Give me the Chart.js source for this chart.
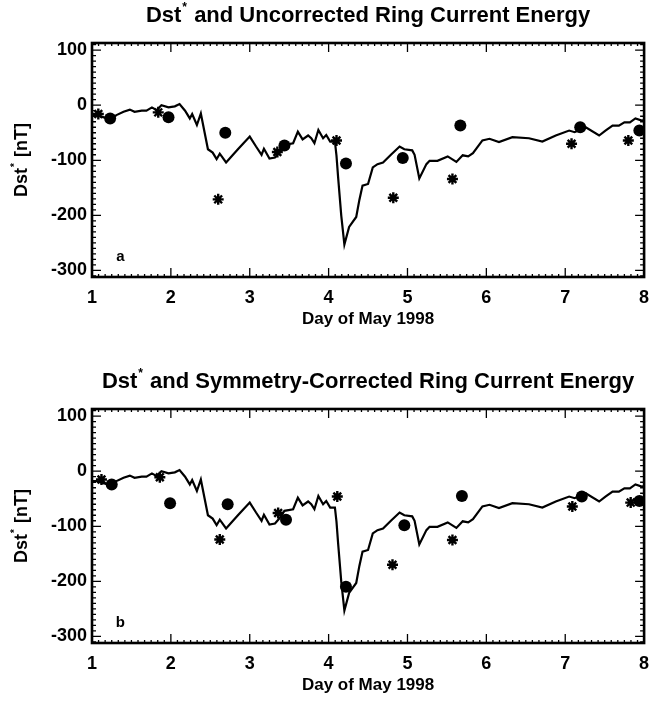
<!DOCTYPE html>
<html>
<head>
<meta charset="utf-8">
<script src="https://cdn.jsdelivr.net/npm/chart.js@4/dist/chart.umd.min.js"></script>
<style>
  body { margin: 0; background: #fff; overflow: hidden; }
  .panel { position: absolute; left: 0; width: 652px; height: 342px; }
</style>
</head>
<body>
<div class="panel" style="top:0"><canvas id="chartA" width="652" height="342"></canvas></div>
<div class="panel" style="top:366px"><canvas id="chartB" width="652" height="342"></canvas></div>
<script>
// Dst* trace (same curve in both panels)
const dstDays = [1.00, 1.06, 1.15, 1.23, 1.31, 1.40, 1.48, 1.54, 1.63, 1.69, 1.76, 1.82, 1.88, 1.97,
  2.05, 2.11, 2.18, 2.24, 2.27, 2.33, 2.38, 2.47, 2.53, 2.58, 2.62, 2.70, 2.85, 3.00, 3.08, 3.15,
  3.18, 3.25, 3.32, 3.38, 3.44, 3.55, 3.61, 3.67, 3.74, 3.78, 3.82, 3.87, 3.93, 3.97, 4.02, 4.08,
  4.10, 4.12, 4.16, 4.20, 4.26, 4.35, 4.39, 4.43, 4.50, 4.56, 4.62, 4.69, 4.79, 4.90, 4.96, 5.06,
  5.09, 5.15, 5.24, 5.28, 5.38, 5.51, 5.62, 5.70, 5.77, 5.83, 5.95, 6.04, 6.16, 6.33, 6.54, 6.71,
  6.88, 7.05, 7.12, 7.26, 7.43, 7.51, 7.60, 7.68, 7.75, 7.82, 7.89, 7.97, 8.00];
const dstValues = [-18, -18, -22, -26, -18, -12, -8, -12, -10, -10, -4, -9, 0, -4,
  -2, 2, -10, -24, -16, -36, -15, -80, -86, -98, -88, -104, -80, -57, -75, -90,
  -79, -97, -95, -85, -72, -69, -48, -62, -55, -60, -69, -45, -60, -54, -66, -66,
  -92, -130, -200, -253, -221, -203, -172, -146, -143, -113, -107, -104, -90, -75, -80, -82,
  -90, -133, -107, -101, -101, -93, -103, -91, -93, -87, -64, -61, -67, -58, -60, -66,
  -55, -46, -49, -40, -55, -46, -37, -37, -31, -31, -24, -28, -27];

// panel a: uncorrected ring current energy
const circleDaysA = [1.23, 1.97, 2.69, 3.44, 4.22, 4.94, 5.67, 7.19, 7.94];
const circleDstA = [-24, -22, -50, -73, -106, -96, -37, -40, -46];
const starDaysA = [1.08, 1.84, 2.60, 3.35, 4.10, 4.82, 5.57, 7.08, 7.80];
const starDstA = [-16, -13, -171, -85, -64, -168, -134, -70, -64];

// panel b: symmetry-corrected ring current energy
const circleDaysB = [1.25, 1.99, 2.72, 3.46, 4.22, 4.96, 5.69, 7.21, 7.94];
const circleDstB = [-24, -58, -60, -88, -210, -98, -45, -46, -54];
const starDaysB = [1.12, 1.86, 2.62, 3.36, 4.11, 4.81, 5.57, 7.09, 7.83];
const starDstB = [-15, -11, -124, -76, -46, -170, -125, -64, -57];

const dayTicks = [1, 2, 3, 4, 5, 6, 7, 8];
const dstTicks = [-300, -200, -100, 0, 100];

Chart.defaults.font.family = "'Liberation Sans', Arial, sans-serif";
Chart.defaults.color = "#000";

function toPoints(xs, ys) {
  return xs.map((x, i) => ({ x: x, y: ys[i] }));
}

// draws "before" + raised small "*" + "after"
function drawSupText(ctx, before, after, x, y, size) {
  const big = `bold ${size}px 'Liberation Sans', Arial, sans-serif`;
  const small = `bold ${Math.round(size * 0.55)}px 'Liberation Sans', Arial, sans-serif`;
  ctx.font = big;
  const w1 = ctx.measureText(before).width;
  const w3 = ctx.measureText(after).width;
  ctx.font = small;
  const w2 = ctx.measureText("*").width + 2;
  let cx = x - (w1 + w2 + w3) / 2;
  ctx.textAlign = "left";
  ctx.textBaseline = "middle";
  ctx.font = big;
  ctx.fillText(before, cx, y);
  ctx.font = small;
  ctx.fillText("*", cx + w1 + 1, y - size * 0.38);
  ctx.font = big;
  ctx.fillText(after, cx + w1 + w2, y);
}

const panelDecor = {
  id: "panelDecor",
  afterDraw(chart, args, opts) {
    const { ctx, chartArea: a, scales: { x, y } } = chart;
    ctx.save();
    ctx.fillStyle = "#000";
    ctx.strokeStyle = "#000";

    // inward ticks on all four sides
    ctx.lineWidth = 1.3;
    ctx.beginPath();
    for (let v = -310; v <= 110; v += 10) {
      const py = y.getPixelForValue(v);
      const len = v % 100 === 0 ? 9 : 4;
      ctx.moveTo(a.left, py); ctx.lineTo(a.left + len, py);
      ctx.moveTo(a.right, py); ctx.lineTo(a.right - len, py);
    }
    for (let i = 0; i <= 84; i++) {
      const px = x.getPixelForValue(1 + i / 12);
      const len = i % 12 === 0 ? 9 : 3;
      ctx.moveTo(px, a.bottom); ctx.lineTo(px, a.bottom - len);
      ctx.moveTo(px, a.top); ctx.lineTo(px, a.top + len);
    }
    ctx.stroke();

    // frame
    ctx.lineWidth = 2.6;
    ctx.strokeRect(a.left, a.top, a.right - a.left, a.bottom - a.top);

    // title
    drawSupText(ctx, "Dst", opts.title, (a.left + a.right) / 2, 16, 22);

    // y axis title, rotated
    ctx.save();
    ctx.translate(22, (a.top + a.bottom) / 2);
    ctx.rotate(-Math.PI / 2);
    drawSupText(ctx, "Dst", " [nT]", 0, 0, 18);
    ctx.restore();

    // panel letter
    ctx.font = "bold 15px 'Liberation Sans', Arial, sans-serif";
    ctx.textAlign = "center";
    ctx.textBaseline = "middle";
    ctx.fillText(opts.letter, x.getPixelForValue(1.36), y.getPixelForValue(-276));
    ctx.restore();
  }
};

function makePanel(canvasId, title, letter, cDays, cDst, sDays, sDst) {
  const ctx = document.getElementById(canvasId).getContext("2d");
  return new Chart(ctx, {
    type: "scatter",
    data: {
      datasets: [
        {
          data: toPoints(cDays, cDst),
          pointStyle: "circle",
          pointRadius: 6,
          backgroundColor: "#000",
          borderWidth: 0,
        },
        {
          data: toPoints(sDays, sDst),
          pointStyle: "star",
          pointRadius: 5.5,
          borderColor: "#000",
          borderWidth: 2.4,
        },
        {
          data: toPoints(dstDays, dstValues),
          showLine: true,
          pointRadius: 0,
          borderColor: "#000",
          borderWidth: 2.2,
          tension: 0,
        },
      ],
    },
    options: {
      responsive: false,
      animation: false,
      events: [],
      layout: { padding: { top: 43, right: 7, left: 0, bottom: 0 } },
      plugins: {
        legend: { display: false },
        tooltip: { enabled: false },
        panelDecor: { title: title, letter: letter },
      },
      scales: {
        x: {
          type: "linear",
          min: 1,
          max: 8,
          afterBuildTicks: (s) => { s.ticks = dayTicks.map(v => ({ value: v })); },
          afterFit: (s) => { s.height = 65; s.paddingLeft = 0; s.paddingRight = 0; },
          grid: { display: false, drawTicks: false },
          border: { display: false },
          ticks: { font: { size: 18, weight: "bold" }, padding: 10, maxRotation: 0 },
          title: {
            display: true,
            text: "Day of May 1998",
            font: { size: 17, weight: "bold" },
            padding: { top: 0, bottom: 12 },
          },
        },
        y: {
          type: "linear",
          min: -312,
          max: 113,
          afterBuildTicks: (s) => { s.ticks = dstTicks.map(v => ({ value: v })); },
          afterFit: (s) => { s.width = 92; s.paddingTop = 0; s.paddingBottom = 0; },
          grid: { display: false, drawTicks: false },
          border: { display: false },
          ticks: { font: { size: 18, weight: "bold" }, padding: 5 },
        },
      },
    },
    plugins: [panelDecor],
  });
}

makePanel("chartA", " and Uncorrected Ring Current Energy", "a",
  circleDaysA, circleDstA, starDaysA, starDstA);
makePanel("chartB", " and Symmetry-Corrected Ring Current Energy", "b",
  circleDaysB, circleDstB, starDaysB, starDstB);
</script>
</body>
</html>
